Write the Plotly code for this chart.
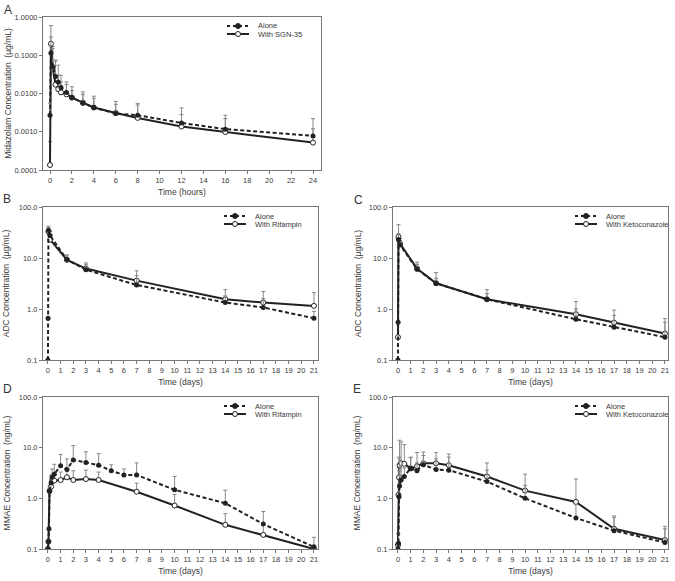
import plotly.graph_objects as go

# ---- Panel A: midazolam (hours) ----
a_t_alone = [0, 0.083, 0.25, 0.5, 0.75, 1, 1.5, 2, 3, 4, 6, 8, 12, 16, 24]
a_alone = [0.0027, 0.115, 0.05, 0.028, 0.02, 0.0144, 0.0107, 0.0079, 0.0056, 0.0043, 0.0030, 0.0027, 0.0017, 0.00117, 0.00078]
a_alone_top = [0.0055, 0.6, 0.15, 0.07, 0.055, 0.03, 0.02, 0.015, 0.011, 0.0085, 0.0062, 0.0055, 0.0042, 0.0027, 0.0022]
a_t_with = [0, 0.083, 0.25, 0.5, 0.75, 1, 1.5, 2, 3, 4, 6, 8, 12, 16, 24]
a_with = [0.000135, 0.2, 0.046, 0.017, 0.013, 0.0107, 0.0095, 0.0078, 0.0058, 0.0043, 0.0031, 0.0023, 0.00137, 0.00098, 0.00052]
a_with_top = [0.00055, 0.3, 0.17, 0.075, 0.03, 0.02, 0.017, 0.012, 0.0095, 0.0075, 0.0052, 0.005, 0.0028, 0.0022, 0.0012]

# ---- Panel B: ADC with rifampin (days) ----
b_t_alone = [0, 0.01, 0.04, 0.17, 1.5, 3, 7, 14, 17, 21]
b_alone = [0.1, 0.66, 35, 27.5, 9.3, 5.9, 2.95, 1.34, 1.07, 0.66]
b_alone_top = [0.1, 0.66, 42, 35, 11, 7.5, 4.5, 1.8, 1.6, 0.9]
b_t_with = [0.04, 0.17, 1.5, 3, 7, 14, 17, 21]
b_with = [33, 22.9, 9.2, 6.2, 3.6, 1.55, 1.34, 1.15]
b_with_top = [40, 33, 11.5, 8, 5.6, 2.4, 2.2, 2.1]

# ---- Panel C: ADC with ketoconazole (days) ----
c_t_alone = [0, 0.01, 0.04, 0.17, 1.5, 3, 7, 14, 17, 21]
c_alone = [0.1, 0.55, 23, 18, 6.0, 3.2, 1.55, 0.63, 0.44, 0.28]
c_alone_top = [0.1, 0.55, 30, 22, 7.5, 4, 2.0, 1.0, 0.75, 0.55]
c_t_with = [0, 0.04, 0.17, 1.5, 3, 7, 14, 17, 21]
c_with = [0.28, 26, 19, 6.2, 3.2, 1.55, 0.79, 0.54, 0.33]
c_with_top = [0.28, 45, 24, 8.3, 5.2, 2.4, 1.4, 0.95, 0.65]

# ---- Panel D: MMAE with rifampin (days) ----
d_t = [0, 0.04, 0.083, 0.125, 0.25, 0.33, 0.5, 1, 1.5, 2, 3, 4, 5, 6, 7, 10, 14, 17, 21]
d_alone = [0.1, 0.14, 0.25, 1.4, 2.0, 2.6, 3.0, 4.4, 3.7, 5.7, 5.1, 4.5, 3.5, 2.9, 2.9, 1.47, 0.80, 0.31, 0.11]
d_alone_top = [0.1, 0.14, 0.25, 1.6, 2.8, 3.8, 4.7, 7.3, 6.0, 11, 8.3, 7.6, 4.6, 3.8, 5.0, 2.7, 1.45, 0.55, 0.17]
d_t_with = [0, 0.04, 0.125, 0.25, 0.33, 0.5, 1, 1.5, 2, 3, 4, 7, 10, 14, 17, 21]
d_with = [0.1, 0.14, 1.4, 1.7, 2.2, 2.24, 2.3, 2.6, 2.3, 2.4, 2.3, 1.35, 0.72, 0.30, 0.19, 0.1]
d_with_top = [0.1, 0.14, 1.8, 2.4, 3.0, 3.2, 3.3, 3.7, 3.5, 3.6, 3.3, 2.0, 1.2, 0.5, 0.3, 0.12]

# ---- Panel E: MMAE with ketoconazole (days) ----
e_t = [0, 0.04, 0.083, 0.125, 0.25, 0.5, 1, 1.5, 2, 3, 4, 7, 10, 14, 17, 21]
e_alone = [0.1, 0.13, 1.07, 1.75, 2.3, 2.7, 3.9, 3.5, 4.6, 3.7, 3.6, 2.14, 1.0, 0.41, 0.23, 0.135]
e_alone_top = [0.1, 0.2, 3.5, 6.0, 4.5, 4.0, 6.3, 5.0, 7.0, 6.0, 6.5, 3.6, 1.8, 0.75, 0.42, 0.25]
e_with = [0.12, 1.17, 2.6, 4.5, 4.9, 4.8, 3.9, 4.3, 4.9, 4.9, 4.5, 2.7, 1.42, 0.85, 0.25, 0.15]
e_with_top = [0.2, 4.0, 6.5, 14, 13, 11.5, 6.5, 8.0, 8.2, 8.0, 7.5, 5.0, 3.0, 2.4, 0.45, 0.28]

a_tickvals = [0.0001, 0.001, 0.01, 0.1, 1]
a_ticktext = ["0.0001", "0.0010", "0.0100", "0.1000", "1.0000"]
bd_tickvals = [0.1, 1, 10, 100]
bd_ticktext = ["0.1", "1.0", "10.0", "100.0"]

FONT = "Liberation Sans, Arial, sans-serif"
TXT = "#3a3a3a"
W, H = 675, 581
DASH = "4px,2.5px"

fig = go.Figure()


def add_pair(n, t_alone, alone, alone_top, t_with, with_, with_top):
    xa = "x" if n == 1 else f"x{n}"
    ya = "y" if n == 1 else f"y{n}"
    fig.add_trace(go.Scatter(
        x=t_with, y=with_, mode="lines+markers", xaxis=xa, yaxis=ya, showlegend=False,
        line=dict(color="#222", width=2),
        marker=dict(symbol="circle", size=5, color="white", line=dict(color="#222", width=1)),
        error_y=dict(type="data", symmetric=False, array=[u - v for u, v in zip(with_top, with_)],
                     arrayminus=[0] * len(with_), color="#888", thickness=1, width=2)))
    fig.add_trace(go.Scatter(
        x=t_alone, y=alone, mode="lines+markers", xaxis=xa, yaxis=ya, showlegend=False,
        line=dict(color="#222", width=2, dash=DASH),
        marker=dict(symbol="circle", size=5, color="#222"),
        error_y=dict(type="data", symmetric=False, array=[u - v for u, v in zip(alone_top, alone)],
                     arrayminus=[0] * len(alone), color="#888", thickness=1, width=2)))


add_pair(1, a_t_alone, a_alone, a_alone_top, a_t_with, a_with, a_with_top)
add_pair(2, b_t_alone, b_alone, b_alone_top, b_t_with, b_with, b_with_top)
add_pair(3, c_t_alone, c_alone, c_alone_top, c_t_with, c_with, c_with_top)
add_pair(4, d_t, d_alone, d_alone_top, d_t_with, d_with, d_with_top)
add_pair(5, e_t, e_alone, e_alone_top, e_t, e_with, e_with_top)


def px(x):
    return x / W


def py(y):
    return 1 - y / H


ax_common = dict(showline=True, mirror=True, linecolor="#777", linewidth=1, ticks="outside",
                 ticklen=3, tickcolor="#777", showgrid=False, zeroline=False, automargin=False,
                 tickfont=dict(size=7.5, color=TXT, family=FONT))

panels = {
    1: dict(xd=(43, 321), yd=(17, 170), xr=[-0.64, 24.73], yr=[-4, 0],
            xt="Time (hours)", yt="Midazolam Concentration  (µg/mL)", so=1,
            xtick=list(range(0, 25, 2)), yv=a_tickvals, ytx=a_ticktext,
            leg=(227, 26), name="With SGN-35"),
    2: dict(xd=(43, 318), yd=(207, 360), xr=[-0.39, 21.32], yr=[-1, 2],
            xt="Time (days)", yt="ADC Concentration  (µg/mL)", so=7,
            xtick=list(range(0, 22)), yv=bd_tickvals, ytx=bd_ticktext,
            leg=(224, 216), name="With Rifampin"),
    3: dict(xd=(393, 668), yd=(207, 360), xr=[-0.39, 21.24], yr=[-1, 2],
            xt="Time (days)", yt="ADC Concentration  (µg/mL)", so=5,
            xtick=list(range(0, 22)), yv=bd_tickvals, ytx=bd_ticktext,
            leg=(575, 216), name="With Ketoconazole"),
    4: dict(xd=(43, 318), yd=(397, 549), xr=[-0.39, 21.32], yr=[-1, 2],
            xt="Time (days)", yt="MMAE Concentration  (ng/mL)", so=6,
            xtick=list(range(0, 22)), yv=bd_tickvals, ytx=bd_ticktext,
            leg=(224, 406), name="With Rifampin"),
    5: dict(xd=(393, 668), yd=(397, 549), xr=[-0.39, 21.24], yr=[-1, 2],
            xt="Time (days)", yt="MMAE Concentration  (ng/mL)", so=6,
            xtick=list(range(0, 22)), yv=bd_tickvals, ytx=bd_ticktext,
            leg=(575, 406), name="With Ketoconazole"),
}

layout = dict(width=W, height=H, margin=dict(l=0, r=0, t=0, b=0),
              paper_bgcolor="white", plot_bgcolor="white", showlegend=False,
              font=dict(family=FONT, color=TXT))

shapes = []
annotations = []

for n, p in panels.items():
    xk = "xaxis" if n == 1 else f"xaxis{n}"
    yk = "yaxis" if n == 1 else f"yaxis{n}"
    ya = "y" if n == 1 else f"y{n}"
    xa = "x" if n == 1 else f"x{n}"
    layout[xk] = dict(ax_common, domain=[px(p["xd"][0]), px(p["xd"][1])], range=p["xr"], anchor=ya,
                      tickvals=p["xtick"],
                      title=dict(text=p["xt"], standoff=5, font=dict(size=8.5, color=TXT)))
    layout[yk] = dict(ax_common, domain=[py(p["yd"][1]), py(p["yd"][0])], range=p["yr"], type="log",
                      anchor=xa, tickvals=p["yv"], ticktext=p["ytx"],
                      title=dict(text=p["yt"], standoff=p["so"], font=dict(size=8.5, color=TXT)))

    # compact legend drawn by hand (two rows, 8 px apart)
    lx, ly = p["leg"]
    for row, (label, dash, fill) in enumerate([("Alone", "dot", "#222"), (p["name"], "solid", "white")]):
        y = ly + row * 8
        shapes.append(dict(type="line", xref="paper", yref="paper", x0=px(lx), x1=px(lx + 22),
                           y0=py(y), y1=py(y), line=dict(color="#222", width=2, dash=dash)))
        shapes.append(dict(type="circle", xref="paper", yref="paper",
                           x0=px(lx + 8.5), x1=px(lx + 13.5), y0=py(y + 2.5), y1=py(y - 2.5),
                           fillcolor=fill, line=dict(color="#222", width=1)))
        annotations.append(dict(text=label, x=px(lx + 29), y=py(y), xref="paper", yref="paper",
                                showarrow=False, xanchor="left", yanchor="middle",
                                font=dict(size=7.5, color=TXT, family=FONT)))

letters = [("A", 8, 10), ("B", 7, 199), ("C", 358, 200), ("D", 7, 389), ("E", 357, 389)]
for txt, x, y in letters:
    annotations.append(dict(text=txt, x=px(x), y=py(y), xref="paper", yref="paper",
                            showarrow=False, xanchor="center", yanchor="middle",
                            font=dict(size=12, color="#333", family=FONT)))

layout["shapes"] = shapes
layout["annotations"] = annotations
fig.update_layout(**layout)

# page body has a default 8px margin; remove it so the 675x581 figure fills the window
fig.write_html("out.html", config={"displayModeBar": False},
               post_script="document.body.style.margin='0';")
